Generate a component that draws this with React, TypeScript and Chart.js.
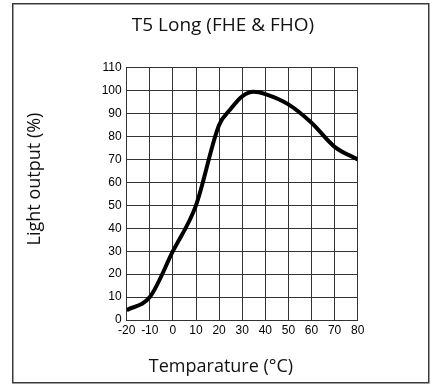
import React, { useEffect, useRef } from "react";
import { Chart, registerables } from "chart.js";

Chart.register(...registerables);

const TITLE = "T5 Long (FHE & FHO)";
const X_TITLE = "Temparature (°C)";
const Y_TITLE = "Light output (%)";

const temperatures = [-20, -10, 0, 10, 20, 25, 30, 35, 40, 50, 60, 70, 80];
const lightOutput = [4.3, 10, 30, 50, 85, 92, 97.5, 99.5, 98.5, 94, 86, 75.5, 70];

const X_MIN = -20;
const X_MAX = 80;
const X_STEP = 10;
const Y_MIN = 0;
const Y_MAX = 110;
const Y_STEP = 10;

const framePlugin = {
  id: "frameAndTitles",
  afterDraw(chart: any) {
    const ctx = chart.ctx;
    ctx.save();
    ctx.strokeStyle = "#3a3a3a";
    ctx.lineWidth = 1.5;
    ctx.strokeRect(12.75, 3.75, 416, 379);
    ctx.fillStyle = "#111";
    ctx.textAlign = "center";
    ctx.textBaseline = "middle";
    ctx.font = "19px 'Open Sans'";
    ctx.fillText(TITLE, 223, 26);
    ctx.font = "18px 'Open Sans'";
    ctx.fillText(X_TITLE, 221, 367);
    ctx.translate(35, 179);
    ctx.rotate(-Math.PI / 2);
    ctx.fillText(Y_TITLE, 0, 0);
    ctx.restore();
  },
};

export default function App() {
  const ref = useRef<HTMLCanvasElement>(null);
  useEffect(() => {
    if (!ref.current) return;
    const tickFont = { family: "'Liberation Sans', Arial, sans-serif", size: 12 };
    const chart = new Chart(ref.current, {
      type: "line",
      data: {
        datasets: [
          {
            data: temperatures.map((t, i) => ({ x: t, y: lightOutput[i] })),
            borderColor: "#000",
            borderWidth: 4,
            pointRadius: 0,
            cubicInterpolationMode: "monotone",
            fill: false,
          },
        ],
      },
      options: {
        responsive: false,
        animation: false,
        layout: { padding: { top: 67.7, right: 78.3, left: 0, bottom: 0 } },
        plugins: { legend: { display: false }, tooltip: { enabled: false }, title: { display: false } },
        scales: {
          x: {
            type: "linear",
            min: X_MIN,
            max: X_MAX,
            ticks: { stepSize: X_STEP, color: "#000", font: tickFont, padding: 3, maxRotation: 0 },
            grid: { color: "#333", drawTicks: false, lineWidth: 1 },
            border: { color: "#333", width: 1 },
            afterFit: (s: any) => { s.height = 65; },
          },
          y: {
            min: Y_MIN,
            max: Y_MAX,
            ticks: { stepSize: Y_STEP, color: "#000", font: tickFont, padding: 5 },
            grid: { color: "#333", drawTicks: false, lineWidth: 1 },
            border: { color: "#333", width: 1 },
            afterFit: (s: any) => { s.width = 126.7; },
          },
        },
      },
      plugins: [framePlugin],
    } as any);
    return () => chart.destroy();
  }, []);
  return (
    <div style={{ position: "absolute", left: 0, top: 0, width: 436, height: 385, background: "#fff" }}>
      <canvas ref={ref} width={436} height={385} />
    </div>
  );
}
